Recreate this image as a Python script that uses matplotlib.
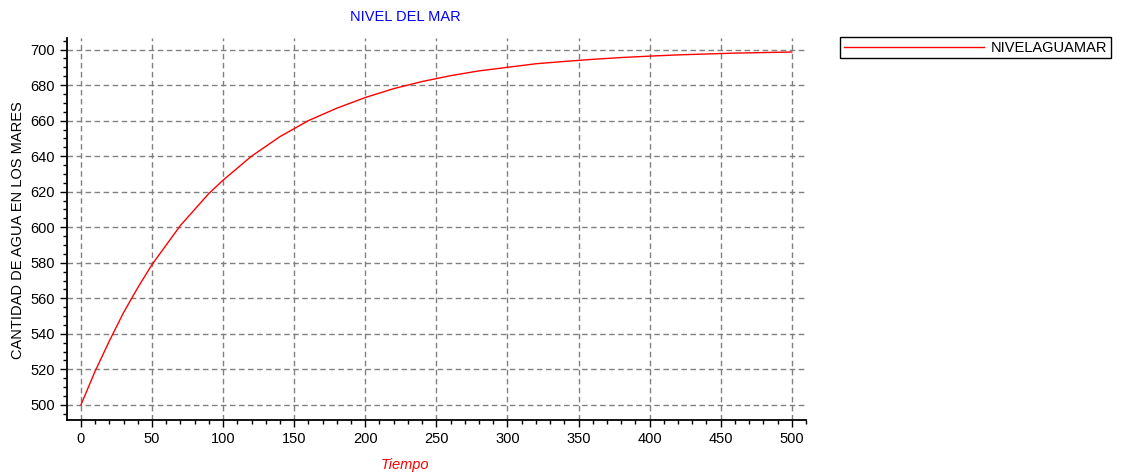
import matplotlib
matplotlib.use("Agg")
import matplotlib.pyplot as plt
from matplotlib.ticker import MultipleLocator

# values
tiempo = [0, 10, 20, 30, 40, 50, 60, 70, 80, 90, 100, 120, 140, 160, 180, 200,
          220, 240, 260, 280, 300, 320, 340, 360, 380, 400, 420, 440, 460, 480, 500]
nivel = [500, 519, 536, 552, 566, 579, 590, 601, 610, 619, 626.5, 640, 651, 660,
         667, 673, 678, 682, 685.3, 688, 690, 692, 693.3, 694.5, 695.5, 696.3,
         697, 697.5, 698, 698.3, 698.6]

plt.rcParams['font.family'] = ['Liberation Sans', 'DejaVu Sans']
plt.rcParams['font.size'] = 10.5

W, H = 1124, 474
fig = plt.figure(figsize=(W / 100, H / 100), dpi=100)
ax = fig.add_axes([67 / W, 1 - 420 / H, (806 - 67) / W, (420 - 38) / H])

ax.plot(tiempo, nivel, color='red', linewidth=1, label='NIVELAGUAMAR')

ax.set_xlim(-9.8, 510)
ax.set_ylim(491.5, 706.5)
ax.xaxis.set_major_locator(MultipleLocator(50))
ax.xaxis.set_minor_locator(MultipleLocator(10))
ax.yaxis.set_major_locator(MultipleLocator(20))
ax.yaxis.set_minor_locator(MultipleLocator(5))
ax.tick_params(which='major', length=5, width=1, color='black', labelsize=10.5)
ax.tick_params(which='minor', length=3, width=1, color='black')

ax.grid(True, which='major', color='#808080', linestyle=(0, (4, 2.5)), linewidth=1)
ax.spines['top'].set_visible(False)
ax.spines['right'].set_visible(False)
ax.spines['left'].set_linewidth(1.3)
ax.spines['bottom'].set_linewidth(1.3)

fig.text(405 / W, 1 - 17 / H, 'NIVEL DEL MAR', color='blue', ha='center', va='center')
fig.text(405 / W, 1 - 465 / H, 'Tiempo', color='red', style='italic', ha='center', va='center')
fig.text(18 / W, 1 - 230 / H, 'CANTIDAD DE AGUA EN LOS MARES', rotation=90,
         ha='center', va='center')

leg = ax.legend(loc='upper left', bbox_to_anchor=(840 / W, 1 - 37 / H),
                bbox_transform=fig.transFigure, borderaxespad=0, fancybox=False,
                edgecolor='black', framealpha=1, handlelength=9.6, borderpad=0.25,
                handletextpad=0.5, fontsize=10.5)
leg.get_frame().set_linewidth(1)

fig.savefig('out.png', dpi=100)
